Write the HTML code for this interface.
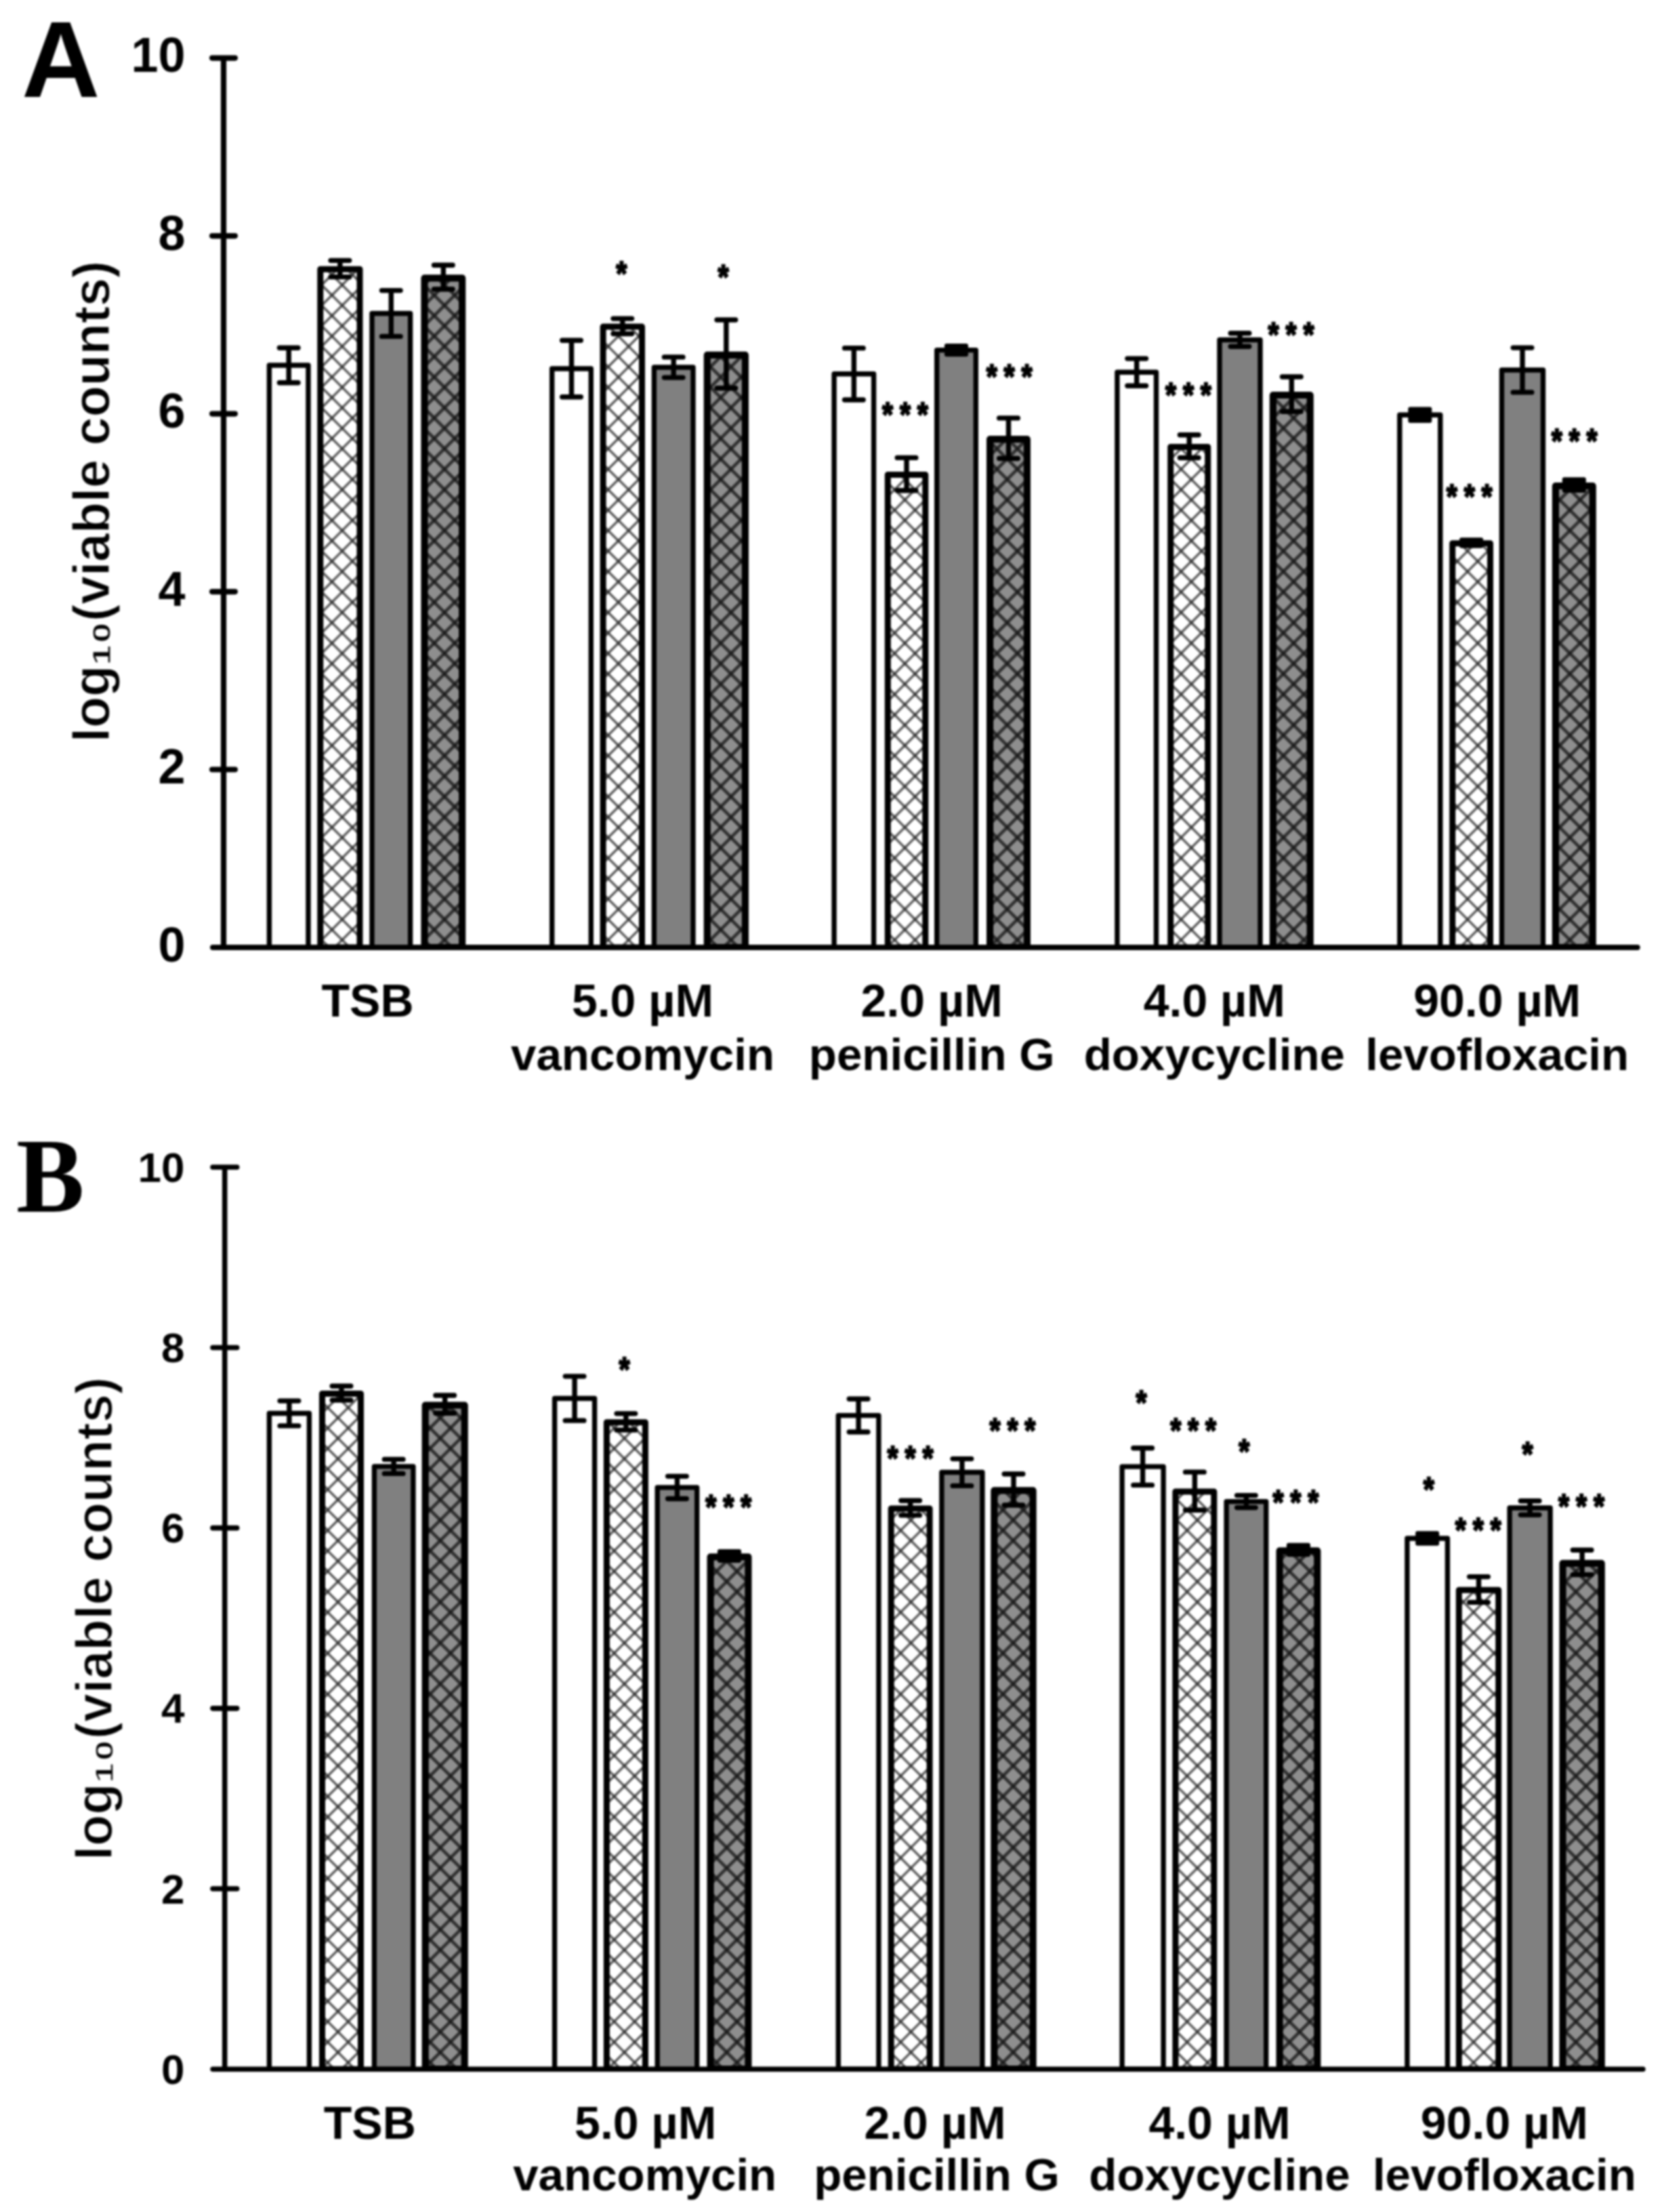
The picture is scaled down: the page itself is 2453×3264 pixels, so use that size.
<!DOCTYPE html>
<html lang="en">
<head>
<meta charset="utf-8">
<title>Viable counts</title>
<style>
html,body{margin:0;padding:0;background:#fff;}
body{width:2453px;height:3264px;overflow:hidden;}
svg{display:block;filter:blur(1.6px);}
</style>
</head>
<body>
<svg width="2453" height="3264" viewBox="0 0 2453 3264">
<rect width="2453" height="3264" fill="#fff"/>
<defs><pattern id="lhA" patternUnits="userSpaceOnUse" x="6.7" y="12.8" width="30.2" height="30.2"><rect width="30.2" height="30.2" fill="#fff"/><path d="M-3 -3L33.2 33.2M-3 33.2L33.2 -3" stroke="#5a5a5a" stroke-width="3.5" fill="none"/><rect x="-2.3" y="-2.3" width="4.6" height="4.6" fill="#3c3c3c"/><rect x="27.9" y="-2.3" width="4.6" height="4.6" fill="#3c3c3c"/><rect x="-2.3" y="27.9" width="4.6" height="4.6" fill="#3c3c3c"/><rect x="27.9" y="27.9" width="4.6" height="4.6" fill="#3c3c3c"/><rect x="12.8" y="12.8" width="4.6" height="4.6" fill="#3c3c3c"/></pattern><pattern id="dhA" patternUnits="userSpaceOnUse" x="6.7" y="12.8" width="30.2" height="30.2"><rect width="30.2" height="30.2" fill="#8e8e8e"/><path d="M-3 -3L33.2 33.2M-3 33.2L33.2 -3" stroke="#303030" stroke-width="4.8" fill="none"/><rect x="-2.3" y="-2.3" width="4.6" height="4.6" fill="#1c1c1c"/><rect x="27.9" y="-2.3" width="4.6" height="4.6" fill="#1c1c1c"/><rect x="-2.3" y="27.9" width="4.6" height="4.6" fill="#1c1c1c"/><rect x="27.9" y="27.9" width="4.6" height="4.6" fill="#1c1c1c"/><rect x="12.8" y="12.8" width="4.6" height="4.6" fill="#1c1c1c"/></pattern></defs>
<clipPath id="cpA"><rect x="0" y="25.6" width="2453" height="1376.5"/></clipPath>
<g stroke="#000" stroke-width="7.4" stroke-linejoin="round" clip-path="url(#cpA)">
<rect x="397.4" y="539" width="57.6" height="859" fill="#fff"/>
<rect x="472.8" y="397.3" width="58.2" height="1000.7" fill="url(#lhA)" stroke-width="9"/>
<rect x="549" y="462.5" width="56.6" height="935.5" fill="#808080"/>
<rect x="626.5" y="410.4" width="55.7" height="987.6" fill="url(#dhA)" stroke-width="10.2"/>
<rect x="814.7" y="544" width="57.6" height="854" fill="#fff"/>
<rect x="890.1" y="482.1" width="57.4" height="915.9" fill="url(#lhA)" stroke-width="9"/>
<rect x="965.4" y="542" width="57.6" height="856" fill="#808080"/>
<rect x="1043.8" y="523.8" width="56.1" height="874.2" fill="url(#dhA)" stroke-width="10.2"/>
<rect x="1231.1" y="551.8" width="58.5" height="846.2" fill="#fff"/>
<rect x="1310.3" y="700.4" width="55.5" height="697.6" fill="url(#lhA)" stroke-width="9"/>
<rect x="1382.7" y="516.6" width="57.6" height="881.4" fill="#808080"/>
<rect x="1461.1" y="648.1" width="54.8" height="749.9" fill="url(#dhA)" stroke-width="10.2"/>
<rect x="1648.9" y="549.2" width="57.6" height="848.8" fill="#fff"/>
<rect x="1727.7" y="659.4" width="55" height="738.6" fill="url(#lhA)" stroke-width="9"/>
<rect x="1800" y="501.5" width="60" height="896.5" fill="#808080"/>
<rect x="1878.9" y="583" width="54.8" height="815" fill="url(#dhA)" stroke-width="10.2"/>
<rect x="2065.8" y="612.2" width="60" height="785.8" fill="#fff"/>
<rect x="2143.7" y="801.8" width="55.8" height="596.2" fill="url(#lhA)" stroke-width="9"/>
<rect x="2216.5" y="546" width="61" height="852" fill="#808080"/>
<rect x="2295.9" y="717" width="54.8" height="681" fill="url(#dhA)" stroke-width="10.2"/>
</g>
<path d="M426.2 513.3V564.7M412.4 513.3H440M412.4 564.7H440M501.9 384.35V408.65M488.1 384.35H515.7M488.1 408.65H515.7M577.3 428.6V496.4M563.5 428.6H591.1M563.5 496.4H591.1M654.35 391.3V426.7M640.55 391.3H668.15M640.55 426.7H668.15M843.5 502.2V585.8M829.7 502.2H857.3M829.7 585.8H857.3M918.8 470.1V492.5M905 470.1H932.6M905 492.5H932.6M994.2 526.9V557.1M980.4 526.9H1008M980.4 557.1H1008M1071.85 472V572.8M1058.05 472H1085.65M1058.05 572.8H1085.65M1260.35 513.65V589.95M1246.55 513.65H1274.15M1246.55 589.95H1274.15M1338.05 675.4V723.8M1324.25 675.4H1351.85M1324.25 723.8H1351.85M1488.5 616.9V676.5M1474.7 616.9H1502.3M1474.7 676.5H1502.3M1677.7 529.1V569.3M1663.9 529.1H1691.5M1663.9 569.3H1691.5M1755.2 641.7V675.5M1741.4 641.7H1769M1741.4 675.5H1769M1830 491.75V511.25M1816.2 491.75H1843.8M1816.2 511.25H1843.8M1906.3 555.95V607.25M1892.5 555.95H1920.1M1892.5 607.25H1920.1M2247 513.1V578.9M2233.2 513.1H2260.8M2233.2 578.9H2260.8" stroke="#000" stroke-width="7.4" stroke-linecap="round" fill="none"/>
<rect x="1394" y="506.95" width="35" height="19.3" rx="3" fill="#000"/>
<rect x="2078.3" y="600.45" width="35" height="23.5" rx="3" fill="#000"/>
<rect x="2154.1" y="793.2" width="35" height="15.6" rx="3" fill="#000"/>
<rect x="2305.8" y="704.25" width="35" height="22.7" rx="3" fill="#000"/>
<path d="M330 85.6V1398M314.1 1398H2416.6M313.1 1135.52H346.9M313.1 873.04H346.9M313.1 610.56H346.9M313.1 348.08H346.9M313.1 85.6H346.9" stroke="#000" stroke-width="8.2" stroke-linecap="round" fill="none"/>
<g font-family='"Liberation Sans", Arial, Helvetica, sans-serif' font-weight="700" font-size="72" text-anchor="end" fill="#000">
<text x="273.5" y="1418.8">0</text>
<text x="273.5" y="1156.32">2</text>
<text x="273.5" y="893.84">4</text>
<text x="273.5" y="631.36">6</text>
<text x="273.5" y="368.88">8</text>
<text x="273.5" y="106.4">10</text>
</g>
<text transform="translate(160.8 1095) rotate(-90)" font-family='"Liberation Sans", Arial, Helvetica, sans-serif' font-weight="700" font-size="76" textLength="710" lengthAdjust="spacingAndGlyphs" fill="#000" stroke="#fff" stroke-width="1.2">log₁₀(viable counts)</text>
<g font-family='"Liberation Sans", Arial, Helvetica, sans-serif' font-weight="700" font-size="68" text-anchor="middle" fill="#000">
<text x="542.5" y="1500.2">TSB</text>
<text x="948.5" y="1500.2">5.0 µM</text>
<text x="948.5" y="1578.5" font-size="67.3">vancomycin</text>
<text x="1375.2" y="1500.2">2.0 µM</text>
<text x="1375.2" y="1578.5" font-size="67.3">penicillin G</text>
<text x="1792.3" y="1500.2">4.0 µM</text>
<text x="1792.3" y="1578.5" font-size="67.3">doxycycline</text>
<text x="2209.7" y="1500.2">90.0 µM</text>
<text x="2209.7" y="1578.5" font-size="67.3">levofloxacin</text>
</g>
<g font-family='"Liberation Sans", Arial, Helvetica, sans-serif' font-weight="700" font-size="46" fill="#000" stroke="#000" stroke-width="2.2" stroke-linejoin="round">
<text transform="translate(917.4 421.34) scale(0.9 1.08)" x="-8.99" y="0">*</text>
<text transform="translate(1067.6 425.94) scale(0.9 1.08)" x="-8.99" y="0">*</text>
<text transform="translate(1336 629.44) scale(0.9 1.08)" x="-37.77 -8.99 19.78" y="0">***</text>
<text transform="translate(1489.7 572.94) scale(0.9 1.08)" x="-37.77 -8.99 19.78" y="0">***</text>
<text transform="translate(1754 600.34) scale(0.9 1.08)" x="-37.77 -8.99 19.78" y="0">***</text>
<text transform="translate(1905.6 511.34) scale(0.9 1.08)" x="-37.77 -8.99 19.78" y="0">***</text>
<text transform="translate(2168.8 749.74) scale(0.9 1.08)" x="-37.77 -8.99 19.78" y="0">***</text>
<text transform="translate(2323.7 667.74) scale(0.9 1.08)" x="-37.77 -8.99 19.78" y="0">***</text>
</g>
<text x="32" y="143" font-family='"Liberation Sans", Arial, Helvetica, sans-serif' font-weight="700" font-size="160" fill="#000">A</text>
<defs><pattern id="lhB" patternUnits="userSpaceOnUse" x="15.6" y="8.3" width="30.2" height="30.2"><rect width="30.2" height="30.2" fill="#fff"/><path d="M-3 -3L33.2 33.2M-3 33.2L33.2 -3" stroke="#5a5a5a" stroke-width="3.5" fill="none"/><rect x="-2.3" y="-2.3" width="4.6" height="4.6" fill="#3c3c3c"/><rect x="27.9" y="-2.3" width="4.6" height="4.6" fill="#3c3c3c"/><rect x="-2.3" y="27.9" width="4.6" height="4.6" fill="#3c3c3c"/><rect x="27.9" y="27.9" width="4.6" height="4.6" fill="#3c3c3c"/><rect x="12.8" y="12.8" width="4.6" height="4.6" fill="#3c3c3c"/></pattern><pattern id="dhB" patternUnits="userSpaceOnUse" x="15.6" y="8.3" width="30.2" height="30.2"><rect width="30.2" height="30.2" fill="#8e8e8e"/><path d="M-3 -3L33.2 33.2M-3 33.2L33.2 -3" stroke="#303030" stroke-width="4.8" fill="none"/><rect x="-2.3" y="-2.3" width="4.6" height="4.6" fill="#1c1c1c"/><rect x="27.9" y="-2.3" width="4.6" height="4.6" fill="#1c1c1c"/><rect x="-2.3" y="27.9" width="4.6" height="4.6" fill="#1c1c1c"/><rect x="27.9" y="27.9" width="4.6" height="4.6" fill="#1c1c1c"/><rect x="12.8" y="12.8" width="4.6" height="4.6" fill="#1c1c1c"/></pattern></defs>
<clipPath id="cpB"><rect x="0" y="1662.3" width="2453" height="1394.7"/></clipPath>
<g stroke="#000" stroke-width="7.4" stroke-linejoin="round" clip-path="url(#cpB)">
<rect x="397.4" y="2085.5" width="59" height="967.7" fill="#fff"/>
<rect x="475.5" y="2056.4" width="57" height="996.8" fill="url(#lhB)" stroke-width="9"/>
<rect x="552.4" y="2163.9" width="57.5" height="889.3" fill="#808080"/>
<rect x="627.7" y="2073.5" width="58" height="979.7" fill="url(#dhB)" stroke-width="10.2"/>
<rect x="818.6" y="2063.5" width="59" height="989.7" fill="#fff"/>
<rect x="895.4" y="2098.8" width="57" height="954.4" fill="url(#lhB)" stroke-width="9"/>
<rect x="970.2" y="2194.9" width="58.5" height="858.3" fill="#808080"/>
<rect x="1048.6" y="2297.4" width="55.8" height="755.8" fill="url(#dhB)" stroke-width="10.2"/>
<rect x="1237.3" y="2088.6" width="59.6" height="964.6" fill="#fff"/>
<rect x="1315.2" y="2225.9" width="56.9" height="827.3" fill="url(#lhB)" stroke-width="9"/>
<rect x="1389.9" y="2172.5" width="60" height="880.7" fill="#808080"/>
<rect x="1467.4" y="2199.4" width="57.2" height="853.8" fill="url(#dhB)" stroke-width="10.2"/>
<rect x="1656.1" y="2164.1" width="61" height="889.1" fill="#fff"/>
<rect x="1734.9" y="2201" width="56.9" height="852.2" fill="url(#lhB)" stroke-width="9"/>
<rect x="1810.1" y="2215.6" width="58.6" height="837.6" fill="#808080"/>
<rect x="1888.6" y="2288.4" width="55.7" height="764.8" fill="url(#dhB)" stroke-width="10.2"/>
<rect x="2076.9" y="2270" width="59.5" height="783.2" fill="#fff"/>
<rect x="2153.3" y="2346.3" width="58.4" height="706.9" fill="url(#lhB)" stroke-width="9"/>
<rect x="2228.1" y="2225" width="60" height="828.2" fill="#808080"/>
<rect x="2306.5" y="2306.8" width="57.2" height="746.4" fill="url(#dhB)" stroke-width="10.2"/>
</g>
<path d="M426.9 2067.1V2103.9M413.1 2067.1H440.7M413.1 2103.9H440.7M504 2045.2V2066M490.2 2045.2H517.8M490.2 2066H517.8M581.15 2153.4V2174.4M567.35 2153.4H594.95M567.35 2174.4H594.95M656.7 2058.95V2085.25M642.9 2058.95H670.5M642.9 2085.25H670.5M848.1 2030.85V2096.15M834.3 2030.85H861.9M834.3 2096.15H861.9M923.9 2085.85V2110.15M910.1 2085.85H937.7M910.1 2110.15H937.7M999.45 2178.35V2211.45M985.65 2178.35H1013.25M985.65 2211.45H1013.25M1267.1 2064.2V2113M1253.3 2064.2H1280.9M1253.3 2113H1280.9M1343.65 2214.3V2235.9M1329.85 2214.3H1357.45M1329.85 2235.9H1357.45M1419.9 2152.6V2192.4M1406.1 2152.6H1433.7M1406.1 2192.4H1433.7M1496 2175.05V2220.95M1482.2 2175.05H1509.8M1482.2 2220.95H1509.8M1686.6 2136.8V2191.4M1672.8 2136.8H1700.4M1672.8 2191.4H1700.4M1763.35 2172.15V2228.25M1749.55 2172.15H1777.15M1749.55 2228.25H1777.15M1839.4 2206.6V2224.6M1825.6 2206.6H1853.2M1825.6 2224.6H1853.2M2182.5 2326.6V2364.4M2168.7 2326.6H2196.3M2168.7 2364.4H2196.3M2258.1 2214.75V2235.25M2244.3 2214.75H2271.9M2244.3 2235.25H2271.9M2335.1 2287.2V2323.6M2321.3 2287.2H2348.9M2321.3 2323.6H2348.9" stroke="#000" stroke-width="7.4" stroke-linecap="round" fill="none"/>
<rect x="1059" y="2286" width="35" height="20" rx="3" fill="#000"/>
<rect x="1898.95" y="2276.7" width="35" height="20.6" rx="3" fill="#000"/>
<rect x="2089.15" y="2259.2" width="35" height="21.6" rx="3" fill="#000"/>
<path d="M331.7 1722.3V3053.2M314.1 3053.2H2424.9M314 2787.02H349.7M314 2520.84H349.7M314 2254.66H349.7M314 1988.48H349.7M314 1722.3H349.7" stroke="#000" stroke-width="7.6" stroke-linecap="round" fill="none"/>
<g font-family='"Liberation Sans", Arial, Helvetica, sans-serif' font-weight="700" font-size="62" text-anchor="end" fill="#000">
<text x="272.5" y="3074.7">0</text>
<text x="272.5" y="2808.52">2</text>
<text x="272.5" y="2542.34">4</text>
<text x="272.5" y="2276.16">6</text>
<text x="272.5" y="2009.98">8</text>
<text x="272.5" y="1743.8">10</text>
</g>
<text transform="translate(164.5 2745) rotate(-90)" font-family='"Liberation Sans", Arial, Helvetica, sans-serif' font-weight="700" font-size="76" textLength="713" lengthAdjust="spacingAndGlyphs" fill="#000" stroke="#fff" stroke-width="1.5">log₁₀(viable counts)</text>
<g font-family='"Liberation Sans", Arial, Helvetica, sans-serif' font-weight="700" font-size="68" text-anchor="middle" fill="#000">
<text x="545.8" y="3155.5">TSB</text>
<text x="952.7" y="3155.5">5.0 µM</text>
<text x="951.7" y="3232.3" font-size="67.3">vancomycin</text>
<text x="1380" y="3155.5">2.0 µM</text>
<text x="1382.5" y="3232.3" font-size="67.3">penicillin G</text>
<text x="1800" y="3155.5">4.0 µM</text>
<text x="1800" y="3232.3" font-size="67.3">doxycycline</text>
<text x="2220.4" y="3155.5">90.0 µM</text>
<text x="2220.4" y="3232.3" font-size="67.3">levofloxacin</text>
</g>
<g font-family='"Liberation Sans", Arial, Helvetica, sans-serif' font-weight="700" font-size="46" fill="#000" stroke="#000" stroke-width="2.2" stroke-linejoin="round">
<text transform="translate(921.7 2037.64) scale(0.9 1.08)" x="-8.99" y="0">*</text>
<text transform="translate(1075.3 2241.44) scale(0.9 1.08)" x="-37.77 -8.99 19.78" y="0">***</text>
<text transform="translate(1343.6 2168.94) scale(0.9 1.08)" x="-37.77 -8.99 19.78" y="0">***</text>
<text transform="translate(1494.5 2128.14) scale(0.9 1.08)" x="-37.77 -8.99 19.78" y="0">***</text>
<text transform="translate(1684.7 2087.24) scale(0.9 1.08)" x="-8.99" y="0">*</text>
<text transform="translate(1761.2 2128.14) scale(0.9 1.08)" x="-37.77 -8.99 19.78" y="0">***</text>
<text transform="translate(1836.3 2159.44) scale(0.9 1.08)" x="-8.99" y="0">*</text>
<text transform="translate(1912.4 2234.14) scale(0.9 1.08)" x="-37.77 -8.99 19.78" y="0">***</text>
<text transform="translate(2108.8 2214.74) scale(0.9 1.08)" x="-8.99" y="0">*</text>
<text transform="translate(2181.8 2274.94) scale(0.9 1.08)" x="-37.77 -8.99 19.78" y="0">***</text>
<text transform="translate(2254.7 2163.24) scale(0.9 1.08)" x="-8.99" y="0">*</text>
<text transform="translate(2334.1 2239.74) scale(0.9 1.08)" x="-37.77 -8.99 19.78" y="0">***</text>
</g>
<text x="24" y="1788" font-family='"Liberation Serif", "Times New Roman", serif' font-weight="700" font-size="157" textLength="100.5" lengthAdjust="spacingAndGlyphs" fill="#000">B</text>
</svg>
</body>
</html>
